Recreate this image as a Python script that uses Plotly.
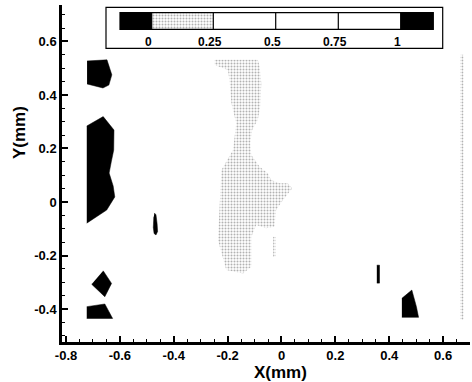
import plotly.graph_objects as go

# ---- data: contour regions (X, Y in mm) ----
# value < 0 regions (black)
neg_a_x = [-0.722, -0.648, -0.630, -0.641, -0.663, -0.722]
neg_a_y = [0.527, 0.531, 0.475, 0.437, 0.426, 0.441]
neg_b_x = [-0.723, -0.662, -0.622, -0.623, -0.632, -0.640, -0.625, -0.619, -0.649, -0.723]
neg_b_y = [0.284, 0.319, 0.269, 0.194, 0.150, 0.108, 0.060, 0.019, -0.030, -0.079]
neg_c_x = [-0.472, -0.466, -0.462, -0.460, -0.466, -0.473, -0.476, -0.474]
neg_c_y = [-0.041, -0.048, -0.080, -0.110, -0.123, -0.118, -0.095, -0.055]
neg_d_x = [-0.662, -0.631, -0.656, -0.705]
neg_d_y = [-0.257, -0.304, -0.354, -0.307]
neg_e_x = [-0.723, -0.656, -0.627, -0.723]
neg_e_y = [-0.391, -0.381, -0.435, -0.435]
neg_f_x = [0.447, 0.484, 0.501, 0.509, 0.447]
neg_f_y = [-0.360, -0.329, -0.391, -0.431, -0.431]
neg_g_x = [0.354, 0.364, 0.364, 0.354]
neg_g_y = [-0.236, -0.236, -0.303, -0.303]
# 0 - 0.25 regions (stippled)
low_a_x = [-0.248, -0.088, -0.081, -0.075, -0.079, -0.088, -0.109, -0.116, -0.112,
           -0.081, -0.051, -0.038, -0.007, 0.023, 0.040, 0.005, -0.020, -0.026,
           -0.057, -0.094, -0.112, -0.112, -0.143, -0.205, -0.236, -0.230, -0.223,
           -0.180, -0.168, -0.186, -0.193, -0.199, -0.248]
low_a_y = [0.531, 0.531, 0.506, 0.444, 0.356, 0.307, 0.269, 0.219, 0.176,
           0.132, 0.107, 0.082, 0.070, 0.070, 0.051, 0.007, -0.030, -0.092,
           -0.098, -0.086, -0.130, -0.242, -0.267, -0.254, -0.142, -0.018, 0.120,
           0.194, 0.294, 0.369, 0.456, 0.493, 0.512]
low_b_x = [-0.031, -0.021, -0.021, -0.031]
low_b_y = [-0.130, -0.130, -0.205, -0.205]
low_c_x = [0.664, 0.676, 0.676, 0.664]
low_c_y = [0.550, 0.550, -0.440, -0.440]

# colour-key labels
key_labels = ["0", "0.25", "0.5", "0.75", "1"]

STIPPLE = dict(shape=".", fgcolor="#666666", bgcolor="white", size=3, solidity=0.35)

fig = go.Figure()

for xs, ys in [(neg_a_x, neg_a_y), (neg_b_x, neg_b_y), (neg_c_x, neg_c_y),
               (neg_d_x, neg_d_y), (neg_e_x, neg_e_y), (neg_f_x, neg_f_y),
               (neg_g_x, neg_g_y)]:
    fig.add_trace(go.Scatter(x=xs, y=ys, fill="toself", mode="lines",
                             line=dict(width=0.5, color="black"),
                             fillcolor="black", showlegend=False, hoverinfo="skip"))

for xs, ys in [(low_a_x, low_a_y), (low_b_x, low_b_y), (low_c_x, low_c_y)]:
    fig.add_trace(go.Scatter(x=xs, y=ys, fill="toself", mode="lines",
                             line=dict(width=0, color="rgba(0,0,0,0)"),
                             fillcolor="white", fillpattern=STIPPLE,
                             showlegend=False, hoverinfo="skip"))

# ---- colour key drawn on an overlay axis in pixel units ----
sw_edges = [120, 151.7, 213.3, 275.7, 338.3, 400.7, 433.3]
fig.add_trace(go.Scatter(x=[151.7, 213.3, 213.3, 151.7], y=[12.7, 12.7, 29.3, 29.3],
                         fill="toself", mode="lines", line=dict(width=0),
                         fillcolor="white", fillpattern=STIPPLE,
                         xaxis="x2", yaxis="y2", showlegend=False, hoverinfo="skip"))

shapes = []
shapes.append(dict(type="rect", xref="x2", yref="y2", x0=106, x1=442.7, y0=7.3, y1=48.3,
                   line=dict(color="black", width=1.2), fillcolor="rgba(0,0,0,0)"))
shapes.append(dict(type="rect", xref="x2", yref="y2", x0=sw_edges[0], x1=sw_edges[1],
                   y0=12.7, y1=29.3, line=dict(width=0), fillcolor="black"))
shapes.append(dict(type="rect", xref="x2", yref="y2", x0=sw_edges[5], x1=sw_edges[6],
                   y0=12.7, y1=29.3, line=dict(width=0), fillcolor="black"))
shapes.append(dict(type="rect", xref="x2", yref="y2", x0=sw_edges[0], x1=sw_edges[6],
                   y0=12.7, y1=29.3, line=dict(color="black", width=1.2),
                   fillcolor="rgba(0,0,0,0)"))
for e in sw_edges[1:-1]:
    shapes.append(dict(type="line", xref="x2", yref="y2", x0=e, x1=e, y0=12.7, y1=29.3,
                       line=dict(color="black", width=1.2)))

annotations = []
for lab, e in zip(key_labels, sw_edges[1:-1]):
    annotations.append(dict(x=e - 3, y=41.5, xref="x2", yref="y2", text=lab,
                            showarrow=False, xanchor="center", yanchor="middle",
                            font=dict(family="Liberation Sans", size=12, color="black",
                                      weight="bold")))
# axis titles in paper coordinates (plot area: x 62..470 px, y 5..342 px)
annotations.append(dict(x=(280 - 62) / 408, y=(342 - 372.5) / 337, xref="paper", yref="paper",
                        text="X(mm)", showarrow=False, xanchor="center", yanchor="middle",
                        font=dict(family="Liberation Sans", size=17, color="black",
                                  weight="bold")))
annotations.append(dict(x=(19 - 62) / 408, y=(342 - 133) / 337, xref="paper", yref="paper",
                        text="Y(mm)", showarrow=False, textangle=-90,
                        xanchor="center", yanchor="middle",
                        font=dict(family="Liberation Sans", size=17, color="black",
                                  weight="bold")))

tickfont = dict(family="Liberation Sans", size=13, color="black", weight="bold")
fig.update_layout(
    width=472, height=382,
    margin=dict(l=62, r=2, t=5, b=40, autoexpand=False),
    paper_bgcolor="white", plot_bgcolor="white",
    showlegend=False,
    xaxis=dict(range=[-0.815, 0.70], showgrid=False, zeroline=False, automargin=False,
               showline=True, linecolor="black", linewidth=2.5,
               ticks="inside", ticklen=6, tickwidth=2, tickcolor="black",
               tickvals=[-0.8, -0.6, -0.4, -0.2, 0, 0.2, 0.4, 0.6],
               ticktext=["-0.8", "-0.6", "-0.4", "-0.2", "0", "0.2", "0.4", "0.6"],
               tickfont=tickfont,
               minor=dict(dtick=0.05, tick0=0, ticks="inside", ticklen=3,
                          tickwidth=1.2, tickcolor="black")),
    yaxis=dict(range=[-0.523, 0.736], showgrid=False, zeroline=False, automargin=False,
               showline=True, linecolor="black", linewidth=2.5,
               ticks="inside", ticklen=6, tickwidth=2, tickcolor="black",
               tickvals=[-0.4, -0.2, 0, 0.2, 0.4, 0.6],
               ticktext=["-0.4", "-0.2", "0", "0.2", "0.4", "0.6"],
               tickfont=tickfont,
               minor=dict(dtick=0.05, tick0=0, ticks="inside", ticklen=3,
                          tickwidth=1.2, tickcolor="black")),
    xaxis2=dict(domain=[0, 1], range=[62, 470], overlaying="x", anchor="y2",
                visible=False, fixedrange=True, automargin=False),
    yaxis2=dict(domain=[0, 1], range=[342, 5], overlaying="y", anchor="x2",
                visible=False, fixedrange=True, automargin=False),
    shapes=shapes,
    annotations=annotations,
)

fig.write_html("out.html", config={"displayModeBar": False},
               post_script="document.body.style.margin='0px';")
